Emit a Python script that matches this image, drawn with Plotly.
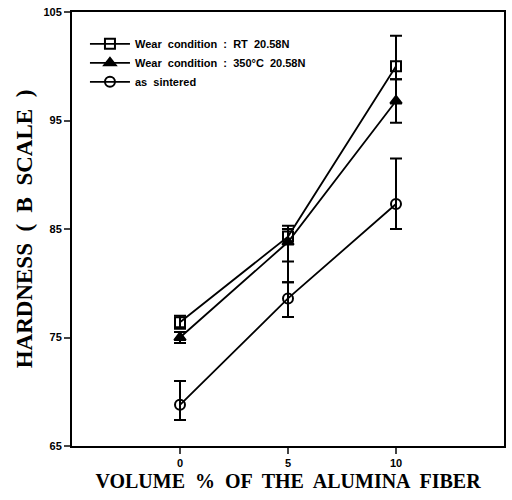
import plotly.graph_objects as go

volume = [0, 5, 10]
rt_hardness = [76.4, 84.3, 100.0]
rt_err_plus = [0.6, 1.0, 2.8]
rt_err_minus = [0.6, 2.3, 1.2]
hot_hardness = [75.0, 83.8, 96.8]
hot_err_plus = [0.5, 1.2, 2.0]
hot_err_minus = [0.5, 3.7, 2.0]
sint_hardness = [68.8, 78.6, 87.3]
sint_err_plus = [2.2, 1.5, 4.2]
sint_err_minus = [1.4, 1.7, 2.3]

names = ["Wear  condition  :  RT  20.58N",
         "Wear  condition  :  350°C  20.58N",
         "as  sintered"]
x_ticks = [0, 5, 10]
y_ticks = [65, 75, 85, 95, 105]

fig = go.Figure()
series = [
    (rt_hardness, rt_err_plus, rt_err_minus, "square-open", names[0]),
    (hot_hardness, hot_err_plus, hot_err_minus, "triangle-up", names[1]),
    (sint_hardness, sint_err_plus, sint_err_minus, "circle-open", names[2]),
]
for y, ep, em, sym, nm in series:
    fig.add_trace(go.Scatter(
        x=volume, y=y, name=nm, mode="lines+markers",
        line=dict(color="black", width=1.8),
        marker=dict(symbol=sym, size=10, color="black", line=dict(width=2, color="black")),
        error_y=dict(type="data", symmetric=False, array=ep, arrayminus=em,
                     color="black", thickness=2, width=6),
    ))

fig.update_layout(
    width=512, height=500,
    margin=dict(l=72, r=6, t=11, b=54),
    paper_bgcolor="white", plot_bgcolor="white",
    font=dict(family="Liberation Sans", color="black"),
    showlegend=True,
    legend=dict(x=0.03, y=0.96, xanchor="left", yanchor="top",
                bgcolor="rgba(0,0,0,0)", tracegroupgap=0, itemwidth=40,
                font=dict(family="Liberation Sans", size=11, color="black", weight="bold")),
    xaxis=dict(range=[-5, 15], tickvals=x_ticks, ticks="outside", ticklen=6, tickwidth=2,
               showline=True, linewidth=2, linecolor="black", mirror=True,
               showgrid=False, zeroline=False,
               tickfont=dict(family="Liberation Sans", size=11, color="black", weight="bold"),
               title=dict(text="VOLUME  %  OF  THE  ALUMINA  FIBER", standoff=6,
                          font=dict(family="Liberation Serif", size=20, color="black", weight="bold"))),
    yaxis=dict(range=[65, 105], tickvals=y_ticks, ticks="outside", ticklen=6, tickwidth=2,
               showline=True, linewidth=2, linecolor="black", mirror=True,
               showgrid=False, zeroline=False,
               tickfont=dict(family="Liberation Sans", size=11, color="black", weight="bold"),
               title=dict(text="HARDNESS  (  B  SCALE  )", standoff=4,
                          font=dict(family="Liberation Serif", size=23, color="black", weight="bold"))),
)

fig.write_html("out.html")
